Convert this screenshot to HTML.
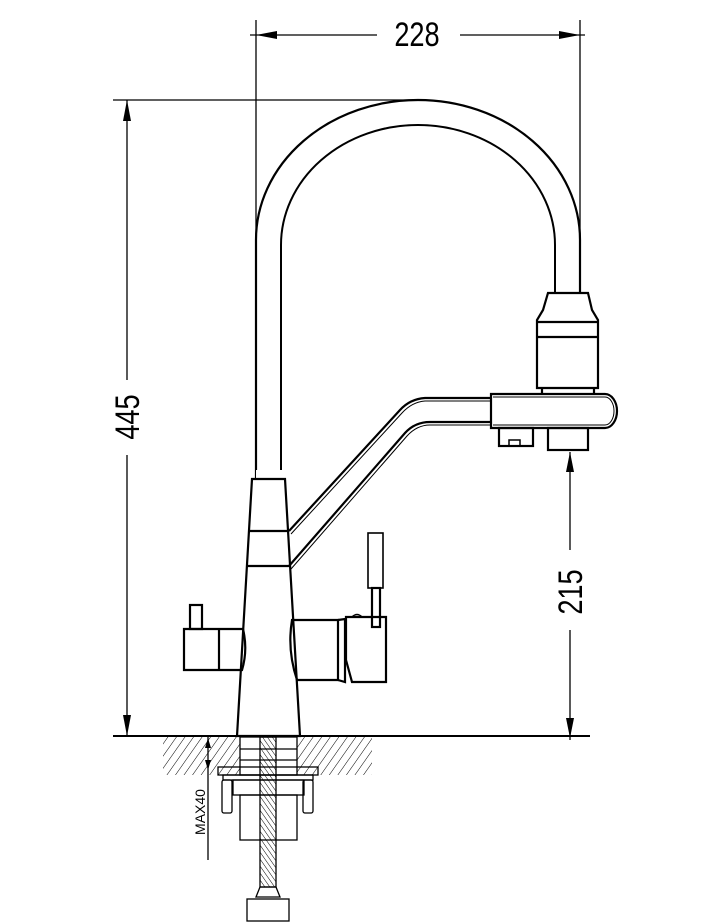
<!DOCTYPE html>
<html><head><style>html,body{margin:0;padding:0;background:#fff}svg{display:block}</style></head><body>
<svg width="701" height="923" viewBox="0 0 701 923" xmlns="http://www.w3.org/2000/svg">
<defs>
<pattern id="h" width="7" height="7" patternUnits="userSpaceOnUse" patternTransform="rotate(35)"><line x1="0" y1="0" x2="0" y2="7" stroke="#000" stroke-width="1"/></pattern>
<pattern id="t" width="4" height="4" patternUnits="userSpaceOnUse" patternTransform="rotate(-35)"><line x1="0" y1="0" x2="0" y2="4" stroke="#000" stroke-width="1"/></pattern>
</defs>
<g fill="none" stroke="#000" stroke-width="2.2">
<!-- dims -->
<g stroke-width="1.3">
<line x1="256" y1="20" x2="256" y2="480"/>
<line x1="580" y1="20" x2="580" y2="240"/>
<line x1="250" y1="35" x2="377" y2="35"/>
<line x1="460" y1="35" x2="585" y2="35"/>
<line x1="113" y1="100" x2="418" y2="100"/>
<line x1="127" y1="100" x2="127" y2="380"/>
<line x1="127" y1="455" x2="127" y2="736"/>
<line x1="570" y1="452" x2="570" y2="550"/>
<line x1="570" y1="630" x2="570" y2="740"/>
<line x1="208" y1="736" x2="208" y2="860"/>
</g>
<g fill="#000" stroke="none">
<polygon points="256,35 277,31 277,39"/><polygon points="580,35 559,31 559,39"/>
<polygon points="127,100 123,121 131,121"/><polygon points="127,736 123,715 131,715"/>
<polygon points="570,452 566,472 574,472"/><polygon points="570,738 566,718 574,718"/>
<polygon points="208,738 205,748 211,748"/><polygon points="208,770 205,760 211,760"/>
</g>
<line x1="113" y1="736" x2="590" y2="736" stroke-width="2"/>
<!-- spout arc -->
<path d="M256 480 L256 240 A162 140 0 0 1 580 240 L580 293"/>
<path d="M281 480 L281 245 A137 120 0 0 1 555 245 L555 293" stroke-width="2"/>
<!-- head -->
<path d="M548 293 L588 293 L592 310 L598 320 L598 388 L537 388 L537 320 L543 310 Z"/>
<line x1="537" y1="322" x2="598" y2="322"/><line x1="537" y1="337" x2="598" y2="337"/>
<path d="M542 388 L542 394 M594 388 L594 394"/>
<path d="M491 394 L605 394 A12 17 0 0 1 605 428 L491 428 Z"/>
<path d="M493 397 L605 397 A9 14 0 0 1 605 425 L493 425" stroke-width="1"/>
<rect x="499" y="428" width="34" height="18"/><rect x="509" y="440" width="11" height="6" stroke-width="1.5"/>
<rect x="548" y="428" width="40" height="22"/>
<!-- diagonal pipe -->
<path d="M289 531 L400 410 Q410 399 425 398 L491 398"/>
<path d="M291 534 L402 413 Q412 402 425 401 L491 401" stroke-width="1"/>
<path d="M289 566 L405 433 Q415 422 430 422 L491 422"/>
<path d="M291 569 L407 436 Q417 425 430 425 L491 425" stroke-width="1"/>
<!-- body -->
<rect x="256" y="470" width="26" height="9" stroke="none" fill="#fff"/>
<path d="M252 479 L285 479 L300 736 L237 736 Z"/>
<line x1="250" y1="531" x2="288" y2="531"/><line x1="248" y1="566" x2="289" y2="566"/>
<!-- left handle -->
<path d="M184 629 L243 629 Q248 650 242 670 L184 670 Z"/>
<line x1="219" y1="629" x2="219" y2="670"/>
<rect x="190" y="605" width="12" height="24"/>
<!-- right handle -->
<path d="M292 620 L338 620 L338 680 L297 680 Q287 650 292 620 Z"/>
<path d="M338 620 L345 619 L345 682 L338 680"/>
<path d="M346 617 L386 617 L386 682 L352 682 L346 660 Z"/>
<path d="M352 617 Q357 612 362 617" stroke-width="1.5"/>
<rect x="372" y="588" width="8" height="39"/>
<rect x="368" y="533" width="15" height="55" stroke-width="1.6"/>
<!-- counter -->
<path d="M163 737 L240 737 L240 775 L163 775 Z" fill="url(#h)" stroke="none"/>
<path d="M297 737 L372 737 L372 775 L297 775 Z" fill="url(#h)" stroke="none"/>
<g stroke-width="1.3">
<rect x="240" y="737" width="57" height="38"/>
<line x1="240" y1="749" x2="297" y2="749"/><line x1="240" y1="760" x2="297" y2="760"/>
<rect x="218" y="767" width="100" height="8"/>
<rect x="223" y="775" width="90" height="5"/>
<rect x="233" y="780" width="71" height="15"/>
<rect x="240" y="795" width="57" height="45"/>
<rect x="222" y="780" width="10" height="33" rx="2"/>
<rect x="303" y="780" width="10" height="33" rx="2"/>
<rect x="260" y="737" width="16" height="150" fill="url(#t)"/>
<path d="M260 887 L276 887 L280 897 L256 897 Z"/>
<rect x="247" y="899" width="42" height="22"/>
</g>
</g>
<g font-family="'Liberation Sans Narrow','Liberation Sans',sans-serif" fill="#000">
<text x="417" y="46" font-size="34" text-anchor="middle" transform="translate(417 35) scale(0.8 1) translate(-417 -35)">228</text>
<text x="0" y="0" font-size="34" text-anchor="middle" transform="translate(139 417) rotate(-90) scale(0.8 1)">445</text>
<text x="0" y="0" font-size="34" text-anchor="middle" transform="translate(582 592) rotate(-90) scale(0.8 1)">215</text>
<text x="0" y="0" font-size="14" text-anchor="middle" transform="translate(205 812) rotate(-90)">MAX40</text>
</g>
</svg>
</body></html>
